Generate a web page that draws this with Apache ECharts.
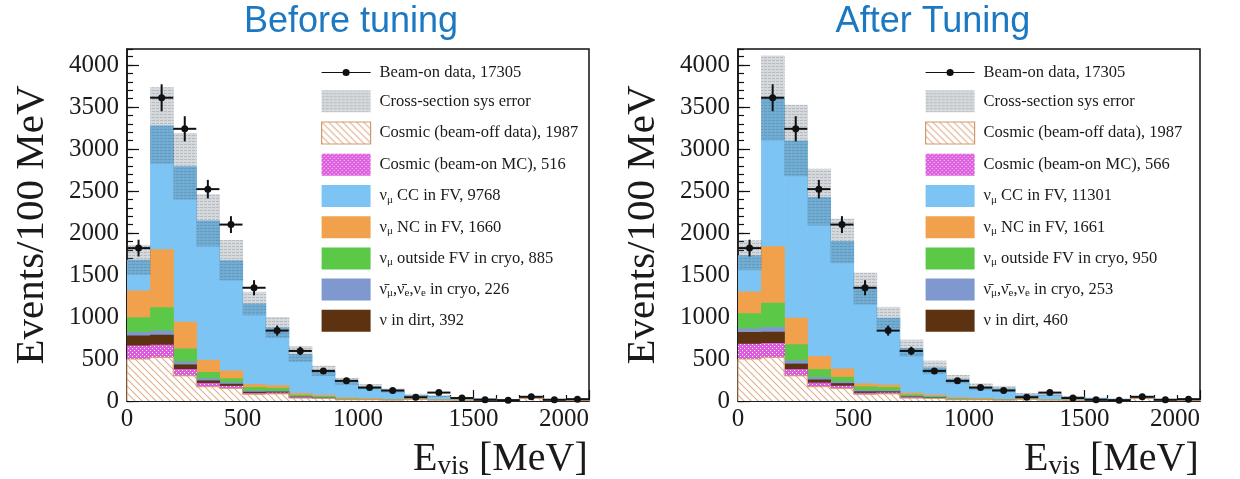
<!DOCTYPE html>
<html>
<head>
<meta charset="utf-8">
<title>Evis before / after tuning</title>
<script src="https://cdn.jsdelivr.net/npm/echarts@6/dist/echarts.min.js"></script>
<style>
    html, body { margin: 0; padding: 0; background: #fff; }
    #chart { width: 1240px; height: 479px; }
</style>
</head>
<body>
<div id="chart"></div>
<script>
// 20 bins of 100 MeV
var binEdges = [0, 100, 200, 300, 400, 500, 600, 700, 800, 900, 1000,
    1100, 1200, 1300, 1400, 1500, 1600, 1700, 1800, 1900, 2000];
var xTicks = [0, 500, 1000, 1500, 2000];
var yTicks = [0, 500, 1000, 1500, 2000, 2500, 3000, 3500, 4000];

// beam-on data (same in both panels)
var dataCounts = [1820, 3610, 3240, 2522, 2100, 1348, 838, 596, 358, 240, 160, 125, 45, 100, 35, 15, 10, 50, 15, 22];
var dataErrors = [100, 160, 150, 110, 100, 90, 60, 50, 35, 30, 25, 20, 15, 20, 12, 8, 6, 15, 8, 10];

// cosmic beam-off data (same in both panels)
var beamOff = [500, 520, 300, 170, 150, 80, 85, 35, 30, 15, 15, 10, 20, 10, 8, 8, 5, 30, 5, 5];

// before tuning
var cosmicMcBefore = [160, 150, 80, 45, 30, 15, 15, 8, 5, 3, 2, 2, 2, 1, 1, 1, 1, 1, 1, 1];
var dirtBefore = [120, 120, 55, 30, 25, 15, 12, 8, 4, 2, 1, 0, 0, 0, 0, 0, 0, 0, 0, 0];
var nubarBefore = [40, 50, 35, 25, 18, 12, 10, 8, 6, 4, 3, 3, 2, 2, 2, 1, 1, 1, 1, 1];
var outFvBefore = [176, 275, 156, 75, 47, 43, 35, 15, 12, 8, 6, 5, 4, 3, 3, 2, 2, 1, 1, 1];
var ncBefore = [320, 690, 317, 145, 93, 35, 30, 20, 15, 10, 8, 6, 5, 4, 3, 2, 2, 1, 1, 1];
var ccBefore = [364, 1475, 1850, 1660, 1312, 960, 688, 466, 288, 193, 135, 99, 37, 40, 23, 16, 9, 8, 6, 4];
var sysErrBefore = [178, 455, 396, 310, 240, 140, 125, 95, 60, 40, 30, 25, 15, 12, 8, 6, 5, 5, 4, 3];
var labelsBefore = ['Beam-on data, 17305', 'Cross-section sys error', 'Cosmic (beam-off data), 1987',
    'Cosmic (beam-on MC), 516', 'ν_μ CC in FV, 9768', 'ν_μ NC in FV, 1660',
    'ν_μ outside FV in cryo, 885', 'ν\u0304_μ,ν\u0304_e,ν_e in cryo, 226', 'ν in dirt, 392'];

// after tuning
var cosmicMcAfter = [180, 170, 80, 48, 32, 17, 16, 9, 6, 3, 2, 2, 2, 1, 1, 1, 1, 1, 1, 1];
var dirtAfter = [140, 135, 65, 38, 30, 18, 14, 9, 5, 3, 2, 1, 0, 0, 0, 0, 0, 0, 0, 0];
var nubarAfter = [42, 55, 40, 28, 20, 14, 12, 9, 7, 5, 4, 3, 3, 2, 2, 2, 1, 1, 1, 1];
var outFvAfter = [183, 290, 190, 95, 55, 45, 38, 16, 12, 8, 6, 5, 4, 3, 3, 2, 2, 1, 1, 1];
var ncAfter = [257, 673, 317, 157, 100, 35, 30, 20, 15, 10, 8, 6, 5, 4, 3, 2, 2, 1, 1, 1];
var ccAfter = [433, 1764, 2108, 1891, 1518, 1129, 795, 532, 325, 216, 133, 123, 41, 55, 33, 20, 14, 11, 9, 6];
var sysErrAfter = [178, 505, 425, 337, 265, 190, 130, 100, 80, 50, 40, 30, 20, 15, 10, 8, 6, 5, 4, 3];
var labelsAfter = ['Beam-on data, 17305', 'Cross-section sys error', 'Cosmic (beam-off data), 1987',
    'Cosmic (beam-on MC), 566', 'ν_μ CC in FV, 11301', 'ν_μ NC in FV, 1661',
    'ν_μ outside FV in cryo, 950', 'ν\u0304_μ,ν\u0304_e,ν_e in cryo, 253', 'ν in dirt, 460'];

var serif = "'Liberation Serif', 'Times New Roman', 'DejaVu Serif', serif";
var textColor = '#1a1a1a';

/*** fill patterns ***/
var makePattern = function(w, h, draw) {
    var c = document.createElement('canvas');
    c.width = w;
    c.height = h;
    draw(c.getContext('2d'));
    return {image: c, repeat: 'repeat'};
};

var hatchFill = makePattern(7, 7, function(ctx) {
    ctx.fillStyle = '#ffffff';
    ctx.fillRect(0, 0, 7, 7);
    ctx.strokeStyle = '#e0b08e';
    ctx.lineWidth = 1.1;
    ctx.beginPath();
    ctx.moveTo(-2, -2); ctx.lineTo(9, 9);
    ctx.moveTo(-2, 5); ctx.lineTo(2, 9);
    ctx.moveTo(5, -2); ctx.lineTo(9, 2);
    ctx.stroke();
});

var dotFill = makePattern(4, 4, function(ctx) {
    ctx.fillStyle = '#dd5cdd';
    ctx.fillRect(0, 0, 4, 4);
    ctx.fillStyle = '#ffffff';
    ctx.fillRect(0, 0, 1, 1);
    ctx.fillRect(2, 2, 1, 1);
});

var bandFill = makePattern(4, 3, function(ctx) {
    ctx.fillStyle = 'rgba(80, 95, 110, 0.24)';
    ctx.fillRect(0, 0, 4, 3);
    ctx.fillStyle = 'rgba(70, 80, 95, 0.22)';
    ctx.fillRect(0, 0, 3, 1);
});

var colors = {
    cc: '#7bc4f3',
    nc: '#f1a04c',
    outFv: '#5cc848',
    nubar: '#7f98d0',
    dirt: '#5c3211',
    hatchLine: '#cf9a70'
};

/*** renderers ***/
var rectRenderer = function(fill, outline) {
    return function(params, api) {
        var x0 = api.value(0), x1 = api.value(1), top = api.value(3);
        var p0 = api.coord([x0, top]);
        var p1 = api.coord([x1, api.value(2)]);
        var children = [{
            type: 'rect',
            shape: {x: p0[0], y: p0[1], width: p1[0] - p0[0] + 0.6, height: p1[1] - p0[1]},
            style: {fill: fill}
        }];
        if (outline && top > 0) {
            var prevTop = api.value(4), nextTop = api.value(5);
            var lineStyle = {stroke: outline, lineWidth: 1};
            children.push({type: 'line', shape: {x1: p0[0], y1: p0[1], x2: p1[0], y2: p0[1]}, style: lineStyle});
            if (prevTop < top) {
                var a = api.coord([x0, prevTop]);
                children.push({type: 'line', shape: {x1: p0[0], y1: p0[1], x2: a[0], y2: a[1]}, style: lineStyle});
            }
            if (nextTop < top) {
                var b = api.coord([x1, nextTop]);
                children.push({type: 'line', shape: {x1: p1[0], y1: p0[1], x2: b[0], y2: b[1]}, style: lineStyle});
            }
        }
        return {type: 'group', children: children};
    };
};

var renderData = function(params, api) {
    var x0 = api.value(0), x1 = api.value(1), y = api.value(2), e = api.value(3);
    var xm = (x0 + x1) / 2;
    var left = api.coord([x0, y]), right = api.coord([x1, y]);
    var top = api.coord([xm, y + e]), bottom = api.coord([xm, Math.max(y - e, 0)]);
    var mid = api.coord([xm, y]);
    var s = {stroke: '#111', lineWidth: 2};
    return {
        type: 'group',
        children: [
            {type: 'line', shape: {x1: left[0], y1: left[1], x2: right[0], y2: right[1]}, style: s},
            {type: 'line', shape: {x1: top[0], y1: top[1], x2: bottom[0], y2: bottom[1]}, style: s},
            {type: 'circle', shape: {cx: mid[0], cy: mid[1], r: 3.5}, style: {fill: '#111'}}
        ]
    };
};

/*** series for one panel ***/
var buildPanel = function(panel, labels, layers, sysErr) {
    var list = [];
    var cum = binEdges.slice(1).map(function() { return 0; });
    var tops = [];
    for (var k = 0; k < layers.length; k++) {
        cum = cum.map(function(c, i) { return c + layers[k].values[i]; });
        tops.push(cum.slice());
    }
    // paint from the top layer down, each from zero, so no seams
    for (var j = layers.length - 1; j >= 0; j--) {
        var t = tops[j];
        list.push({
            type: 'custom',
            name: layers[j].name,
            xAxisIndex: panel,
            yAxisIndex: panel * 2,
            silent: true,
            itemStyle: {color: layers[j].fill},
            renderItem: rectRenderer(layers[j].fill, layers[j].outline),
            data: t.map(function(v, i) {
                return [binEdges[i], binEdges[i + 1], 0, v,
                    i > 0 ? t[i - 1] : 0, i < t.length - 1 ? t[i + 1] : 0];
            })
        });
    }
    list.push({
        type: 'custom',
        name: labels[1],
        xAxisIndex: panel,
        yAxisIndex: panel * 2,
        silent: true,
        itemStyle: {color: bandFill},
        renderItem: rectRenderer(bandFill),
        data: cum.map(function(v, i) {
            return [binEdges[i], binEdges[i + 1], v - sysErr[i], v + sysErr[i]];
        })
    });
    list.push({
        type: 'custom',
        name: labels[0],
        xAxisIndex: panel,
        yAxisIndex: panel * 2,
        silent: true,
        z: 10,
        itemStyle: {color: '#111'},
        renderItem: renderData,
        data: dataCounts.map(function(v, i) {
            return [binEdges[i], binEdges[i + 1], v, dataErrors[i]];
        })
    });
    return list;
};

var layersFor = function(labels, mc, dirt, nubar, outFv, nc, cc) {
    // bottom -> top
    return [
        {name: labels[2], values: beamOff, fill: hatchFill, outline: colors.hatchLine},
        {name: labels[3], values: mc, fill: dotFill},
        {name: labels[8], values: dirt, fill: colors.dirt},
        {name: labels[7], values: nubar, fill: colors.nubar},
        {name: labels[6], values: outFv, fill: colors.outFv},
        {name: labels[5], values: nc, fill: colors.nc},
        {name: labels[4], values: cc, fill: colors.cc}
    ];
};

var series = buildPanel(0, labelsBefore,
    layersFor(labelsBefore, cosmicMcBefore, dirtBefore, nubarBefore, outFvBefore, ncBefore, ccBefore), sysErrBefore)
    .concat(buildPanel(1, labelsAfter,
    layersFor(labelsAfter, cosmicMcAfter, dirtAfter, nubarAfter, outFvAfter, ncAfter, ccAfter), sysErrAfter));

/*** legends ***/
var dataIcon = 'path://M0,2.4H20.5V3.6H0Z M27.5,2.4H48V3.6H27.5Z M20.5,3a3.5,3.5 0 1,0 7,0a3.5,3.5 0 1,0 -7,0Z';
var legendItems = function(labels) {
    var fills = [null, bandFill, hatchFill, dotFill, colors.cc, colors.nc, colors.outFv, colors.nubar, colors.dirt];
    return labels.map(function(name, i) {
        if (i === 0) {
            return {name: name, icon: dataIcon, itemStyle: {color: '#111', borderWidth: 0}};
        }
        var style = {color: fills[i], borderWidth: 0};
        if (i === 2) {
            style.borderColor = colors.hatchLine;
            style.borderWidth = 1.2;
        }
        return {name: name, icon: 'rect', itemStyle: style};
    });
};

var legendText = {
    fontFamily: serif,
    fontSize: 16.5,
    color: textColor,
    padding: [0, 0, 0, 4],
    rich: {
        s: {fontFamily: serif, fontSize: 11, color: textColor, padding: [8, 0, 0, 0]}
    }
};

var legendFormatter = function(name) {
    return name.replace(/_([μe])/g, '{s|$1}');
};

var makeLegend = function(left, labels) {
    return {
        orient: 'vertical',
        left: left,
        top: 64,
        itemWidth: 49,
        itemHeight: 22,
        itemGap: 9.2,
        padding: 0,
        selectedMode: false,
        textStyle: legendText,
        formatter: legendFormatter,
        data: legendItems(labels)
    };
};

/*** axes ***/
var makeXAxis = function(grid) {
    return {
        type: 'value',
        gridIndex: grid,
        min: binEdges[0],
        max: binEdges[binEdges.length - 1],
        interval: xTicks[1] - xTicks[0],
        axisLine: {show: true, onZero: false, lineStyle: {color: '#111', width: 1.5}},
        axisTick: {inside: true, length: 11, lineStyle: {color: '#111', width: 1.2}},
        minorTick: {show: true, splitNumber: 5, length: 6, lineStyle: {color: '#111', width: 1.2}},
        splitLine: {show: false},
        axisLabel: {
            fontFamily: serif, fontSize: 25, color: textColor, margin: 6, alignMaxLabel: 'right',
            formatter: function(v) { return String(v); }
        },
        name: '{e|E}{s|vis}{e| [MeV]}',
        nameLocation: 'end',
        nameGap: -176,
        nameMoveOverlap: false,
        nameTextStyle: {
            verticalAlign: 'top',
            padding: [38, 0, 0, 0],
            rich: {
                e: {fontFamily: serif, fontSize: 40, color: textColor},
                s: {fontFamily: serif, fontSize: 27, color: textColor, padding: [14, 0, 0, 0]}
            }
        }
    };
};

var yMax = 4190;
var makeYAxes = function(grid) {
    return [{
        type: 'value',
        gridIndex: grid,
        position: 'left',
        min: 0,
        max: yMax,
        interval: yTicks[1] - yTicks[0],
        axisLine: {show: true, lineStyle: {color: '#111', width: 1.5}},
        axisTick: {inside: true, length: 12, lineStyle: {color: '#111', width: 1.2}},
        splitLine: {show: false},
        axisLabel: {
            fontFamily: serif, fontSize: 25, color: textColor, margin: 8, showMaxLabel: false,
            formatter: function(v) { return yTicks.indexOf(v) >= 0 ? String(v) : ''; }
        },
        name: 'Events/100 MeV',
        nameLocation: 'middle',
        nameGap: 74,
        nameMoveOverlap: false,
        nameTextStyle: {fontFamily: serif, fontSize: 41, color: textColor}
    }, {
        // minor ticks every 100 events
        type: 'value',
        gridIndex: grid,
        position: 'left',
        min: 0,
        max: yMax,
        interval: 100,
        axisLine: {show: false},
        axisTick: {inside: true, length: 6, lineStyle: {color: '#111', width: 1.2}},
        axisLabel: {show: false},
        splitLine: {show: false}
    }];
};

var gridStyle = {
    show: true, borderColor: '#111', borderWidth: 1.5,
    top: 49, height: 352, width: 462,
    containLabel: false, outerBoundsMode: 'none'
};

var chartOption = {
    animation: false,
    backgroundColor: '#ffffff',
    title: [{
        text: 'Before tuning', left: 351, top: 4, textAlign: 'center', padding: 0,
        textStyle: {fontFamily: "'Liberation Sans', Arial, sans-serif", fontSize: 36, fontWeight: 'normal', color: '#1c78c0'}
    }, {
        text: 'After Tuning', left: 933, top: 4, textAlign: 'center', padding: 0,
        textStyle: {fontFamily: "'Liberation Sans', Arial, sans-serif", fontSize: 36, fontWeight: 'normal', color: '#1c78c0'}
    }],
    grid: [
        Object.assign({left: 127}, gridStyle),
        Object.assign({left: 738}, gridStyle)
    ],
    xAxis: [makeXAxis(0), makeXAxis(1)],
    yAxis: makeYAxes(0).concat(makeYAxes(1)),
    legend: [makeLegend(321, labelsBefore), makeLegend(925, labelsAfter)],
    series: series
};

var myChart = echarts.init(document.getElementById('chart'));
myChart.setOption(chartOption, true);
</script>
</body>
</html>
